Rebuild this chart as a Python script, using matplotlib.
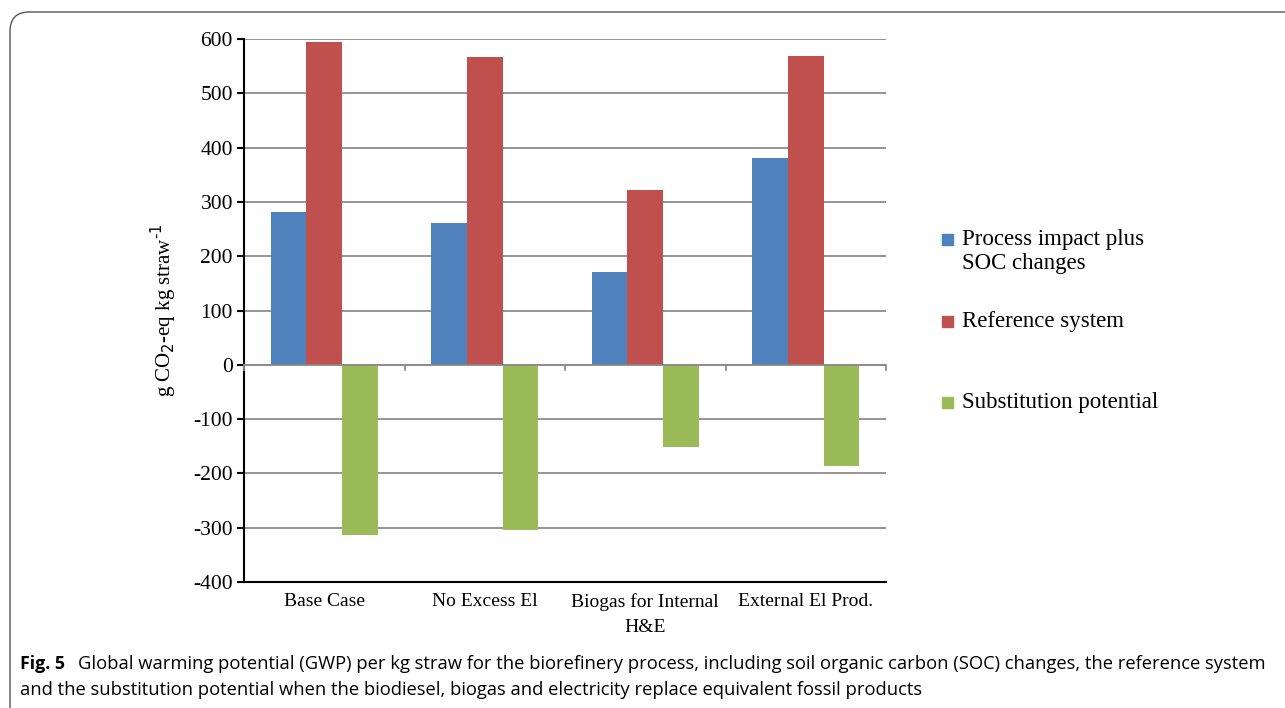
import numpy as np
import matplotlib.pyplot as plt
from matplotlib.patches import FancyBboxPatch, Rectangle

# values (g CO2-eq per kg straw)
cases = ['Base Case', 'No Excess El', 'Biogas for Internal\nH&E', 'External El Prod.']
process_soc = [281, 262, 171, 381]
reference = [595, 567, 322, 568]
substitution = [-314, -304, -152, -186]

series = ['Process impact plus\nSOC changes', 'Reference system', 'Substitution potential']
colors = ['#4F81BD', '#C0504D', '#9BBB59']

plt.rcParams['font.family'] = ['Liberation Serif', 'DejaVu Serif']
plt.rcParams['axes.unicode_minus'] = False

fig = plt.figure(figsize=(12.85, 7.08), dpi=100)
W, H = 1285.0, 708.0

# rounded frame around the figure + caption
frame = FancyBboxPatch((10 / W, -0.05), 1.2, 1 - 12 / H + 0.05,
                       boxstyle='round,pad=0,rounding_size=0.015',
                       transform=fig.transFigure, fill=False,
                       edgecolor='#555555', linewidth=1.0, mutation_aspect=W / H)
fig.patches.append(frame)

ax = fig.add_axes([244 / W, 1 - 582 / H, (886 - 244) / W, (582 - 39) / H])

x = np.arange(len(cases))
bw = 1 / 4.5
for i, (vals, c) in enumerate(zip([process_soc, reference, substitution], colors)):
    ax.bar(x + (i - 1) * bw, vals, width=bw, color=c, zorder=3)

ax.set_xlim(-0.5, len(cases) - 0.5)
ax.set_ylim(-400, 600)
ax.set_yticks(np.arange(-400, 601, 100))
ax.yaxis.grid(True, color='#8c8c8c', linewidth=1.3, zorder=0)
ax.set_axisbelow(True)

for s in ['top', 'right']:
    ax.spines[s].set_visible(False)
ax.spines['left'].set_color('black')
ax.spines['left'].set_linewidth(1.5)
ax.spines['bottom'].set_color('black')
ax.spines['bottom'].set_linewidth(1.5)
ax.tick_params(axis='y', direction='out', length=5, width=1.5, labelsize=15.5, pad=3)

# category axis crossing at zero with boundary ticks
ax.axhline(0, color='#8c8c8c', linewidth=1.3, zorder=4)
for b in np.arange(-0.5, len(cases), 1.0):
    ax.plot([b, b], [0, -10], color='#8c8c8c', linewidth=1.3, zorder=4, clip_on=False)

ax.set_xticks(x)
ax.set_xticklabels(cases, fontsize=14, linespacing=1.65)
ax.tick_params(axis='x', length=0, pad=8)

ax.set_ylabel('g CO$_2$-eq kg straw$^{\\text{-1}}$', fontsize=15, labelpad=10)

# legend
leg_items = [(series[0], 240), (series[1], 322), (series[2], 403)]
for (lab, yc), c in zip(leg_items, colors):
    fig.patches.append(Rectangle((942 / W, 1 - (yc + 5) / H), 11 / W, 11 / H,
                                 transform=fig.transFigure, color=c))
    fig.text(962 / W, 1 - (yc - 11) / H, lab, fontsize=16.5, va='top', ha='left',
             linespacing=1.2)

# caption
cap_font = ['Open Sans', 'DejaVu Sans']
fig.text(20 / W, 1 - 664 / H, 'Fig. 5', fontsize=12.8, fontweight='bold',
         family=cap_font, va='center', ha='left')
fig.text(78 / W, 1 - 664 / H,
         'Global warming potential (GWP) per kg straw for the biorefinery process, including soil organic carbon (SOC) changes, the reference system',
         fontsize=13.2, family=cap_font, va='center', ha='left')
fig.text(20 / W, 1 - 690 / H,
         'and the substitution potential when the biodiesel, biogas and electricity replace equivalent fossil products',
         fontsize=13.2, family=cap_font, va='center', ha='left')

fig.savefig('out.png', dpi=100)
